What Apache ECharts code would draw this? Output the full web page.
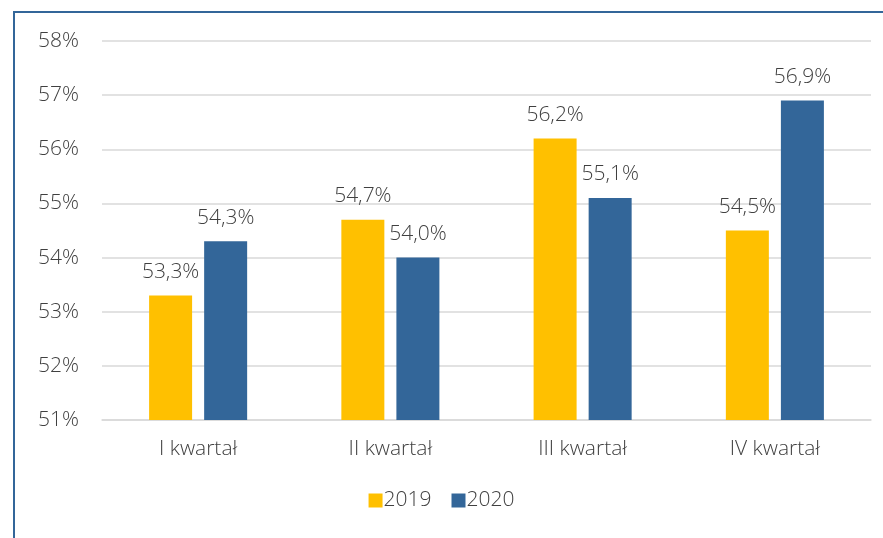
<!DOCTYPE html>
<html><head><meta charset="utf-8">
<script src="https://cdn.jsdelivr.net/npm/echarts@6/dist/echarts.min.js"></script>
<style>html,body{margin:0;padding:0;background:#fff}#c{width:883px;height:538px}</style>
</head><body><div id="c"></div>
<script>
const categories = ['I kwartał', 'II kwartał', 'III kwartał', 'IV kwartał'];
const series2019 = [53.3, 54.7, 56.2, 54.5];
const series2020 = [54.3, 54.0, 55.1, 56.9];
const yTicks = { min: 51, max: 58, interval: 1 };
const FONT = '"Open Sans"';
const W = 300;
const fmt = v => v.toFixed(1).replace('.', ',') + '%';
const chart = echarts.init(document.getElementById('c'));
const labelStyle = {
  show: true, position: 'top', distance: 13,
  fontFamily: FONT, fontWeight: W, fontSize: 21, color: '#404040',
  formatter: p => fmt(p.value)
};
chart.setOption({
  animation: false,
  textStyle: { fontFamily: FONT },
  graphic: [{ type: 'rect', shape: { x: 14, y: 12, width: 1000, height: 700 },
    style: { fill: 'none', stroke: '#336699', lineWidth: 2 }, z: 100 }],
  grid: { left: 102, right: 12, top: 41, bottom: 118 },
  legend: {
    bottom: 22, left: 'center', itemWidth: 14, itemHeight: 14, itemGap: 20,
    icon: 'rect',
    textStyle: { fontFamily: FONT, fontWeight: W, fontSize: 21, color: '#404040', padding: [0, 0, 0, -4] },
    data: ['2019', '2020']
  },
  xAxis: {
    type: 'category', data: categories,
    axisLine: { lineStyle: { color: '#d9d9d9', width: 1.5 } },
    axisTick: { show: false },
    axisLabel: { fontFamily: FONT, fontWeight: W, fontSize: 21, color: '#404040', margin: 19 }
  },
  yAxis: {
    type: 'value', min: yTicks.min, max: yTicks.max, interval: yTicks.interval,
    axisLine: { show: false }, axisTick: { show: false },
    splitLine: { lineStyle: { color: '#d9d9d9', width: 1.5 } },
    axisLabel: { fontFamily: FONT, fontWeight: W, fontSize: 21, color: '#404040', margin: 23,
      formatter: v => v + '%' }
  },
  series: [
    { name: '2019', type: 'bar', data: series2019, barWidth: 43, barGap: '28%',
      itemStyle: { color: '#FFC000' }, label: labelStyle },
    { name: '2020', type: 'bar', data: series2020, barWidth: 43,
      itemStyle: { color: '#336699' }, label: labelStyle }
  ]
});
</script></body></html>
